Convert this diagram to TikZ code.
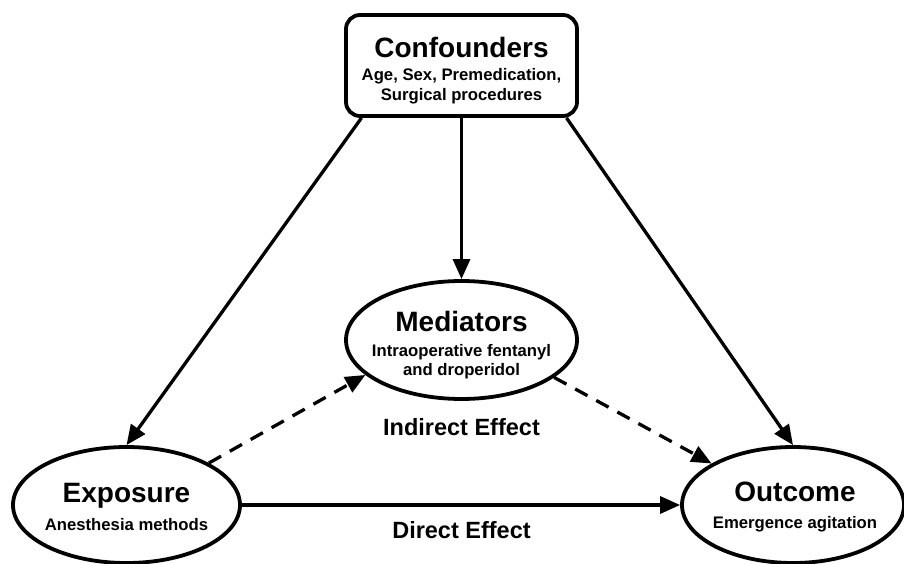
\documentclass[tikz,border=0pt]{standalone}
\usepackage{fontspec}
\setmainfont{Liberation Sans}
\usetikzlibrary{shapes.geometric,arrows.meta}

\begin{document}
\begin{tikzpicture}[x=1pt, y=-1pt,
		var/.style={draw, ellipse, line width=3.8pt, inner sep=0pt},
		vartext/.style={inner sep=0pt, align=center, font=\fontsize{16.7}{19.5}\selectfont\bfseries},
		conf/.style={draw, rounded corners=14pt, line width=3.8pt, inner sep=0pt, align=center, font=\fontsize{16.7}{20}\selectfont\bfseries},
		arr/.style={line width=3.3pt, -{Triangle[length=20pt,width=17pt]}},
		darr/.style={arr, dash pattern=on 14pt off 10pt},
		effect/.style={font=\fontsize{23.5}{25}\selectfont\bfseries}]
		\useasboundingbox (0,0) rectangle (904,564);

		\node[conf, minimum width=231pt, minimum height=101pt] (c) at (461.5,65.5) {\rule{0pt}{31pt}{\fontsize{28}{29}\selectfont Confounders}\\[3pt]Age, Sex, Premedication,\\Surgical procedures};

		\node[var, minimum width=231pt, minimum height=118pt] (m) at (461.5,340) {};
		\node[var, minimum width=227pt, minimum height=116pt] (e) at (126.5,505) {};
		\node[var, minimum width=222pt, minimum height=116pt] (o) at (793,505) {};

		\node[vartext] (mt) at (461.5,345.5) {{\fontsize{28}{29}\selectfont Mediators}\\[5pt]Intraoperative fentanyl\\and droperidol};
		\node[vartext] (et) at (126.5,507) {{\fontsize{28}{29}\selectfont Exposure}\\[8pt]Anesthesia methods};
		\node[vartext] (ot) at (795,507) {{\fontsize{28}{29}\selectfont Outcome}\\[8pt]Emergence agitation};

		\draw[arr] ([xshift=-100pt]c.south) -- (e.north);
		\draw[arr] (c) -- (m);
		\draw[arr] ([xshift=105pt]c.south) -- (o.north);
		\draw[darr] (e.27) -- (m.200);
		\draw[darr] (m.-22) -- (o.153);
		\draw[arr] (e) -- (o);

		\node[effect] (ind) at (461.5,427) {Indirect Effect};
		\node[effect] (dir) at (461.5,530) {Direct Effect};


	\end{tikzpicture}
\end{document}
